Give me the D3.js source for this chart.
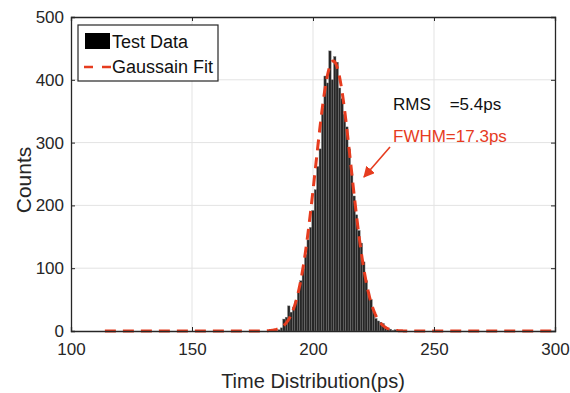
<!DOCTYPE html>
<html><head><meta charset="utf-8">
<script src="https://cdn.jsdelivr.net/npm/d3@7"></script>
<style>body{margin:0;background:#fff}svg{display:block}text{font-family:"Liberation Sans",Arial,sans-serif}</style>
</head><body>
<script>
// histogram bins (ps, 1 ps wide) and counts
const binCenters = [186,187,188,189,190,191,192,193,194,195,196,197,198,199,200,201,202,203,204,205,206,207,208,209,210,211,212,213,214,215,216,217,218,219,220,221,222,223,224,225,226,227,228,229,230,231,232,233,234,236];
const counts =     [2,5,19,22,40,30,38,48,62,80,99,122,145,165,192,225,262,290,355,406,395,446,400,437,428,387,370,345,325,290,250,215,185,160,140,110,80,62,50,32,20,16,14,12,6,4,3,1,2,1];
// gaussian fit parameters
const fitAmp = 430, fitMu = 208.4, fitSigma = 7.35;
const fitRange = [114, 300];
const xTicks = [100,150,200,250,300];
const yTicks = [0,100,200,300,400,500];
const legendLabels = ["Test Data","Gaussain Fit"];
const annotations = ["RMS    =5.4ps","FWHM=17.3ps"];

const W=570,H=393, m={l:71,t:17,r:15,b:62};
const svg=d3.select("body").append("svg").attr("width",W).attr("height",H);
const x=d3.scaleLinear().domain([100,300]).range([m.l,W-m.r]);
const y=d3.scaleLinear().domain([0,500]).range([H-m.b,m.t]);
const red="#e63c1f";

// grid
svg.append("g").selectAll("line.v").data(xTicks.slice(1,-1)).join("line")
 .attr("x1",d=>x(d)).attr("x2",d=>x(d)).attr("y1",y(0)).attr("y2",y(500))
 .attr("stroke","#e3e3e3").attr("stroke-width",1);
svg.append("g").selectAll("line.h").data(yTicks.slice(1,-1)).join("line")
 .attr("y1",d=>y(d)).attr("y2",d=>y(d)).attr("x1",x(100)).attr("x2",x(300))
 .attr("stroke","#e3e3e3").attr("stroke-width",1);

// bars
const bw = x(1)-x(0);
svg.append("g").selectAll("rect").data(binCenters.map((c,i)=>({c,v:counts[i]}))).join("rect")
 .attr("x",d=>x(d.c-0.5)).attr("width",bw).attr("y",d=>y(d.v)).attr("height",d=>y(0)-y(d.v))
 .attr("fill","#262626").attr("stroke","#7a7a7a").attr("stroke-width",0.4);

// fit
const fitPts=d3.range(fitRange[0],fitRange[1]+0.01,0.25).map(t=>[t,fitAmp*Math.exp(-((t-fitMu)**2)/(2*fitSigma*fitSigma))]);
svg.append("path").datum(fitPts).attr("fill","none").attr("stroke",red).attr("stroke-width",3)
 .attr("stroke-dasharray","11,7")
 .attr("d",d3.line().x(d=>x(d[0])).y(d=>y(d[1])));

// axes
const xa=svg.append("g").attr("transform",`translate(0,${y(0)})`)
 .call(d3.axisBottom(x).tickValues(xTicks).tickSize(-4).tickPadding(12));
const ya=svg.append("g").attr("transform",`translate(${x(100)},0)`)
 .call(d3.axisLeft(y).tickValues(yTicks).tickSize(-4).tickPadding(7));
svg.append("g").attr("transform",`translate(0,${y(500)})`)
 .call(d3.axisTop(x).tickValues(xTicks).tickSize(-4).tickFormat(""));
svg.append("g").attr("transform",`translate(${x(300)},0)`)
 .call(d3.axisRight(y).tickValues(yTicks).tickSize(-4).tickFormat(""));
svg.selectAll(".domain").attr("stroke","#262626").attr("stroke-width",1.3);
svg.selectAll(".tick line").attr("stroke","#262626");
svg.selectAll(".tick text").attr("font-size",17).attr("fill","#262626").style("font-family","Liberation Sans, Arial, sans-serif");

svg.append("text").attr("x",(x(100)+x(300))/2).attr("y",388).attr("text-anchor","middle")
 .attr("font-size",20).attr("fill","#262626").text("Time Distribution(ps)");
svg.append("text").attr("transform",`translate(31,${(y(0)+y(500))/2+6}) rotate(-90)`).attr("text-anchor","middle")
 .attr("font-size",21).attr("fill","#262626").text("Counts");

// legend
const lg=svg.append("g");
lg.append("rect").attr("x",78).attr("y",25).attr("width",140).attr("height",56).attr("fill","#fff").attr("stroke","#262626").attr("stroke-width",1.2);
lg.append("rect").attr("x",85).attr("y",33).attr("width",25).attr("height",16).attr("fill","#000");
lg.append("line").attr("x1",84).attr("x2",111).attr("y1",67).attr("y2",67).attr("stroke",red).attr("stroke-width",2.5).attr("stroke-dasharray","9,9");
lg.selectAll("text").data(legendLabels).join("text").attr("x",112).attr("y",(d,i)=>48+i*25)
 .attr("font-size",18).attr("fill","#111").text(d=>d);

// annotations
svg.append("text").attr("x",393).attr("y",110).attr("font-size",17).attr("fill","#111").attr("xml:space","preserve").style("white-space","pre").text(annotations[0]);
svg.append("text").attr("x",393).attr("y",142).attr("font-size",17).attr("fill",red).text(annotations[1]);
svg.append("defs").append("marker").attr("id","ah").attr("viewBox","0 0 10 10").attr("refX",9).attr("refY",5)
 .attr("markerWidth",7).attr("markerHeight",7).attr("orient","auto")
 .append("path").attr("d","M0,0L10,5L0,10z").attr("fill",red);
svg.append("line").attr("x1",390).attr("y1",147).attr("x2",364).attr("y2",177).attr("stroke",red).attr("stroke-width",1.6).attr("marker-end","url(#ah)");
</script>
</body></html>
